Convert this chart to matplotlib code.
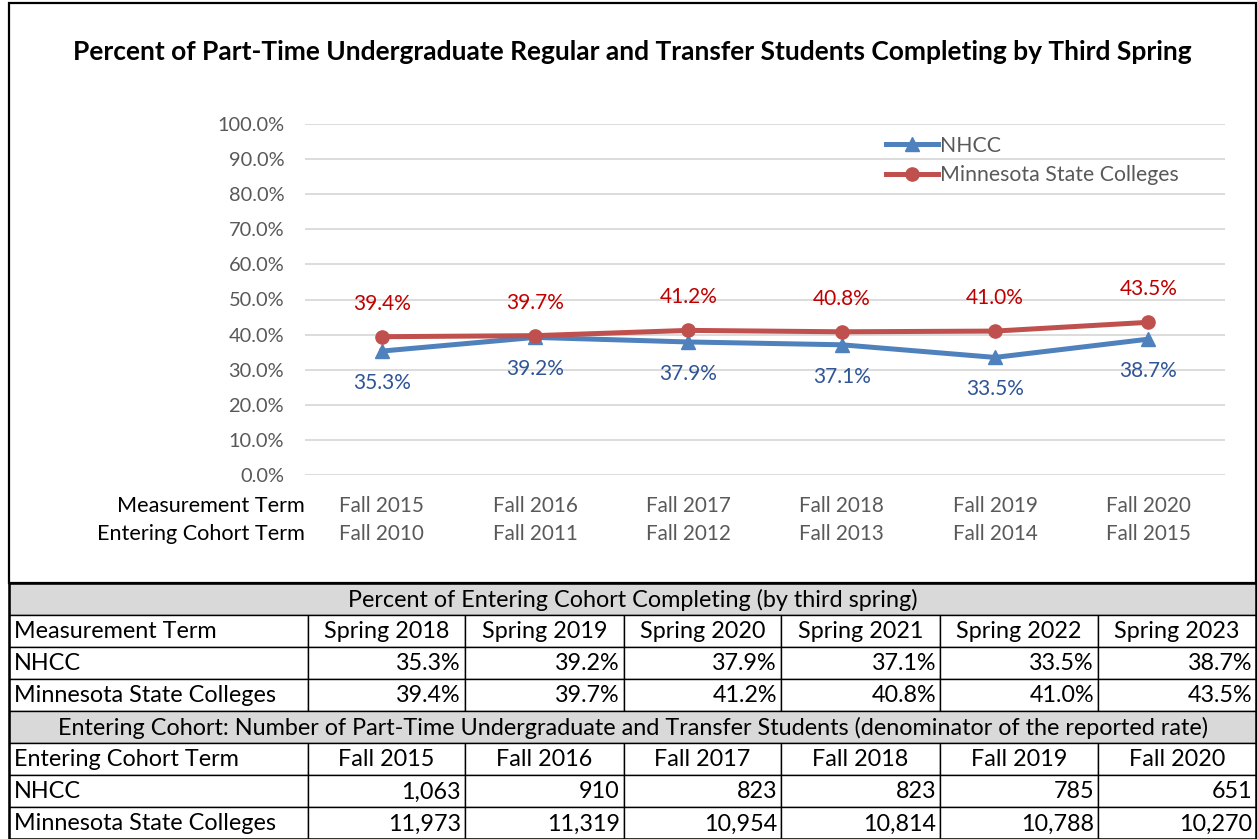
import matplotlib as mpl
mpl.use('Agg')
import matplotlib.pyplot as plt
from matplotlib.patches import Rectangle
from matplotlib.transforms import blended_transform_factory

plt.rcParams['font.family'] = ['Lato', 'DejaVu Sans']

#chart data
measure_terms = ["Fall 2015", "Fall 2016", "Fall 2017", "Fall 2018", "Fall 2019", "Fall 2020"]
cohort_terms = ["Fall 2010", "Fall 2011", "Fall 2012", "Fall 2013", "Fall 2014", "Fall 2015"]
nhcc = [35.3, 39.2, 37.9, 37.1, 33.5, 38.7]
mnstate = [39.4, 39.7, 41.2, 40.8, 41.0, 43.5]

#table data
spring_terms = ["Spring 2018", "Spring 2019", "Spring 2020", "Spring 2021", "Spring 2022", "Spring 2023"]
table_cohorts = ["Fall 2015", "Fall 2016", "Fall 2017", "Fall 2018", "Fall 2019", "Fall 2020"]
nhcc_count = [1063, 910, 823, 823, 785, 651]
mnstate_count = [11973, 11319, 10954, 10814, 10788, 10270]

W, H = 1257, 839
fig = plt.figure(figsize=(W/100, H/100), dpi=100)

#background axes in pixel units for the frame and the table
bg = fig.add_axes([0, 0, 1, 1])
bg.set_xlim(0, W)
bg.set_ylim(H, 0)
bg.axis('off')

#chart frame
bg.add_patch(Rectangle((9, 3), W - 10, 580, fill=False, edgecolor='black', linewidth=1.6))

fig.text(632/W, 1 - 52/H, "Percent of Part-Time Undergraduate Regular and Transfer Students Completing by Third Spring",
         ha='center', va='center', fontsize=19, fontweight='bold', color='black')

#line chart
ax = fig.add_axes([305/W, 1 - 475/H, 920/W, 351/H])
ax.patch.set_alpha(0)
xs = list(range(len(measure_terms)))
ax.set_xlim(-0.5, len(xs) - 0.5)
ax.set_ylim(0, 100)
ax.set_yticks(range(0, 101, 10))
ax.set_yticklabels(["%.1f%%" % v for v in range(0, 101, 10)])
ax.grid(axis='y', color='#d9d9d9', linewidth=1.3)
ax.set_axisbelow(True)
for s in ax.spines.values():
    s.set_visible(False)
ax.tick_params(axis='y', length=0, pad=15, labelsize=14.4, labelcolor='#595959')
ax.set_xticks([])

blue = '#4f81bd'
red = '#c0504d'
ax.plot(xs, nhcc, color=blue, linewidth=3.6, marker='^', markersize=10, label='NHCC', zorder=3)
ax.plot(xs, mnstate, color=red, linewidth=3.6, marker='o', markersize=9.5, label='Minnesota State Colleges', zorder=4)

for i in xs:
    ax.annotate("%.1f%%" % nhcc[i], (i, nhcc[i]), xytext=(0, -32), textcoords='offset pixels',
                ha='center', va='center', fontsize=15, color='#2f5597')
    ax.annotate("%.1f%%" % mnstate[i], (i, mnstate[i]), xytext=(0, 33), textcoords='offset pixels',
                ha='center', va='center', fontsize=15, color='#c00000')

#two-row category labels
tr = blended_transform_factory(ax.transData, ax.transAxes)
for i in xs:
    ax.text(i, -0.088, measure_terms[i], transform=tr, ha='center', va='center', fontsize=14.9, color='#595959')
    ax.text(i, -0.168, cohort_terms[i], transform=tr, ha='center', va='center', fontsize=14.9, color='#595959')
ax.text(0, -0.088, "Measurement Term", transform=ax.transAxes, ha='right', va='center', fontsize=15.6, color='black')
ax.text(0, -0.168, "Entering Cohort Term", transform=ax.transAxes, ha='right', va='center', fontsize=15.6, color='black')

leg = ax.legend(loc='upper left', bbox_to_anchor=(572/920, 1 - 3/351), frameon=False, fontsize=15.3,
                handlelength=2.45, handletextpad=0.1, labelspacing=0.45, borderaxespad=0)
for t in leg.get_texts():
    t.set_color('#595959')

#table below the chart
col_edges = [9, 308, 465, 624, 781, 940, 1098, 1256]
row_top = 583
row_h = 32
tfs = 16.8

def row_y(r):
    return row_top + r*row_h

rows = [
    ("Measurement Term", spring_terms, 'center'),
    ("NHCC", ["%.1f%%" % v for v in nhcc], 'right'),
    ("Minnesota State Colleges", ["%.1f%%" % v for v in mnstate], 'right'),
    ("Entering Cohort Term", table_cohorts, 'center'),
    ("NHCC", ["{:,}".format(v) for v in nhcc_count], 'right'),
    ("Minnesota State Colleges", ["{:,}".format(v) for v in mnstate_count], 'right'),
]
headers = ["Percent of Entering Cohort Completing (by third spring)",
           "Entering Cohort: Number of Part-Time Undergraduate and Transfer Students (denominator of the reported rate)"]

r = 0
for block in range(2):
    #gray header row
    bg.add_patch(Rectangle((col_edges[0], row_y(r)), col_edges[-1] - col_edges[0], row_h,
                           facecolor='#d9d9d9', edgecolor='black', linewidth=1.0))
    bg.text((col_edges[0] + col_edges[-1])/2, row_y(r) + row_h/2 + 1, headers[block],
            ha='center', va='center', fontsize=tfs, color='black')
    r += 1
    for label, cells, align in rows[block*3:block*3 + 3]:
        y0 = row_y(r)
        for c in range(len(col_edges) - 1):
            bg.add_patch(Rectangle((col_edges[c], y0), col_edges[c + 1] - col_edges[c], row_h,
                                   facecolor='white', edgecolor='black', linewidth=1.0))
        bg.text(col_edges[0] + 5, y0 + row_h/2 + 1, label, ha='left', va='center', fontsize=tfs, color='black')
        for c, txt in enumerate(cells):
            if align == 'center':
                xpos = (col_edges[c + 1] + col_edges[c + 2])/2
            else:
                xpos = col_edges[c + 2] - 4
            bg.text(xpos, y0 + row_h/2 + 1, txt, ha=align, va='center', fontsize=tfs, color='black')
        r += 1

#thick outer border of the table
bg.add_patch(Rectangle((col_edges[0], row_top), col_edges[-1] - col_edges[0], row_h*8,
                       fill=False, edgecolor='black', linewidth=1.8))

fig.savefig("out.png", dpi=100)
